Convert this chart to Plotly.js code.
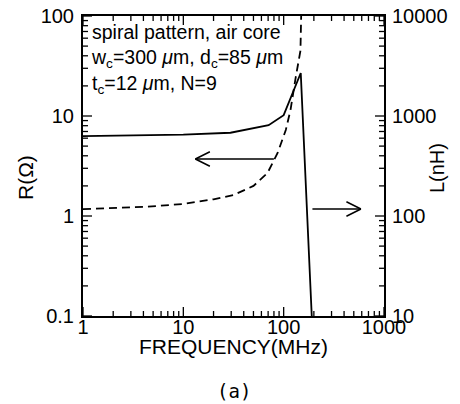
<!DOCTYPE html>
<html><head><meta charset="utf-8">
<script src="https://cdn.plot.ly/plotly-3.0.1.min.js"></script>
<style>html,body{margin:0;padding:0;background:#fff}#plot{width:460px;height:404px}</style>
</head><body><div id="plot"></div>
<script>
// Resistance R (left axis, ohm) vs frequency (MHz)
const freqR = [1, 10, 29.5, 50, 70.8, 100, 148, 191];
const resistR = [6.3, 6.5, 6.8, 7.6, 8.1, 10.2, 26.9, 0.095];
// Inductance L (right axis, nH) vs frequency (MHz)
const freqL = [1, 4.4, 10, 20, 31.6, 50, 69, 87, 105, 117, 132, 147, 150];
const inductL = [117, 124, 132, 147, 162, 200, 269, 427, 724, 1150, 2450, 4500, 12000];
// tick labels (decades)
const xTickVals = [1, 10, 100, 1000];
const xTickText = ['1', '10', '100', '1000'];
const yTickVals = [0.1, 1, 10, 100];
const yTickText = ['0.1', '1', '10', '100'];
const y2TickVals = [10, 100, 1000, 10000];
const y2TickText = ['10', '100', '1000', '10000'];

// all log tick positions 1..9 per decade
function allTicks(decades) {
  const v = [];
  for (let i = 0; i < decades.length; i++) {
    v.push(decades[i]);
    if (i < decades.length - 1) for (let k = 2; k <= 9; k++) v.push(decades[i] * k);
  }
  return v;
}

const F = 'Liberation Sans, Arial, sans-serif';
const xMin = xTickVals[0], xMax = xTickVals[xTickVals.length - 1];
const yMin = yTickVals[0], yMax = yTickVals[yTickVals.length - 1];
const PX_PER_DEC = 100; // plot is ~100 px per decade on every axis
const fac = px => Math.pow(10, px / PX_PER_DEC);
const tickLen = (v, dec) => dec.includes(v) ? 9 : 5;

// inward tick marks as thin line segments through the axes' own scales
const bx = [], by = [], ly = [], lx = [], rx = [], ry = [];
allTicks(xTickVals).forEach(v => {
  const f = fac(tickLen(v, xTickVals));
  bx.push(v, v, null); by.push(yMin, yMin * f, null);
  bx.push(v, v, null); by.push(yMax, yMax / f, null);
});
allTicks(yTickVals).forEach(v => {
  const f = fac(tickLen(v, yTickVals));
  lx.push(xMin, xMin * f, null); ly.push(v, v, null);
});
allTicks(y2TickVals).forEach(v => {
  const f = fac(tickLen(v, y2TickVals));
  rx.push(xMax / f, xMax, null); ry.push(v, v, null);
});
const tickLine = {color: '#000', width: 1.3};
const traces = [
  {x: bx, y: by, mode: 'lines', line: tickLine, yaxis: 'y', hoverinfo: 'skip', showlegend: false, connectgaps: false},
  {x: lx, y: ly, mode: 'lines', line: tickLine, yaxis: 'y', hoverinfo: 'skip', showlegend: false, connectgaps: false},
  {x: rx, y: ry, mode: 'lines', line: tickLine, yaxis: 'y2', hoverinfo: 'skip', showlegend: false, connectgaps: false},
  {x: freqR, y: resistR, mode: 'lines', line: {color: '#000', width: 1.8}, yaxis: 'y', showlegend: false},
  {x: freqL, y: inductL, mode: 'lines', line: {color: '#000', width: 1.8, dash: '8px,5px'}, yaxis: 'y2', showlegend: false}
];

function ax(tv, tt, extra) {
  return Object.assign({type: 'log', showgrid: false, zeroline: false, showline: true, linecolor: '#000', linewidth: 2,
    tickmode: 'array', tickvals: tv, ticktext: tt, ticks: '',
    tickfont: {family: F, size: 20, color: '#000'}}, extra);
}
const layout = {
  width: 460, height: 404, margin: {l: 83, r: 76, t: 16, b: 88},
  paper_bgcolor: '#fff', plot_bgcolor: 'rgba(0,0,0,0)', font: {family: F, color: '#000'},
  xaxis: ax(xTickVals, xTickText, {range: [Math.log10(xMin), Math.log10(xMax)], mirror: true, ticklabelstandoff: -8}),
  yaxis: ax(yTickVals, yTickText, {range: [Math.log10(yMin), Math.log10(yMax)], ticklabelstandoff: 3}),
  yaxis2: ax(y2TickVals, y2TickText, {range: [1, 4], overlaying: 'y', side: 'right', ticklabelstandoff: 2}),
  annotations: [
    {xref: 'paper', yref: 'paper', x: 0.02, y: 0.99, xanchor: 'left', yanchor: 'top', align: 'left', showarrow: false,
     text: 'spiral pattern, air core<br>w<sub>c</sub>=300 <i>μ</i>m, d<sub>c</sub>=85 <i>μ</i>m<br>t<sub>c</sub>=12 <i>μ</i>m, N=9',
     font: {family: F, size: 19.5, color: '#000'}},
    // axis titles
    {xref: 'paper', yref: 'paper', x: 0.5, y: -0.1, xanchor: 'center', yanchor: 'middle', showarrow: false,
     text: 'FREQUENCY(MHz)', font: {family: F, size: 21, color: '#000'}},
    {xref: 'paper', yref: 'paper', x: -0.193, y: 0.463, xanchor: 'center', yanchor: 'middle', showarrow: false, textangle: -90,
     text: 'R(Ω)', font: {family: F, size: 21, color: '#000'}},
    {xref: 'paper', yref: 'paper', x: 1.176, y: 0.493, xanchor: 'center', yanchor: 'middle', showarrow: false, textangle: -90,
     text: 'L(nH)', font: {family: F, size: 20, color: '#000'}},
    // left arrow (points to R curve)
    {xref: 'x', yref: 'y', x: 1.12, y: 0.57, ax: 80, ay: 0, text: '', showarrow: true, arrowhead: 0, arrowwidth: 1.5, arrowcolor: '#000', standoff: 0},
    {xref: 'x', yref: 'y', x: 1.12, y: 0.57, ax: 16, ay: -8, text: '', showarrow: true, arrowhead: 0, arrowwidth: 1.5, arrowcolor: '#000', standoff: 0},
    {xref: 'x', yref: 'y', x: 1.12, y: 0.57, ax: 16, ay: 8, text: '', showarrow: true, arrowhead: 0, arrowwidth: 1.5, arrowcolor: '#000', standoff: 0},
    // right arrow (points to L curve)
    {xref: 'x', yref: 'y', x: 2.77, y: 0.07, ax: -50, ay: 0, text: '', showarrow: true, arrowhead: 0, arrowwidth: 1.5, arrowcolor: '#000', standoff: 0},
    {xref: 'x', yref: 'y', x: 2.77, y: 0.07, ax: -16, ay: -8, text: '', showarrow: true, arrowhead: 0, arrowwidth: 1.5, arrowcolor: '#000', standoff: 0},
    {xref: 'x', yref: 'y', x: 2.77, y: 0.07, ax: -16, ay: 8, text: '', showarrow: true, arrowhead: 0, arrowwidth: 1.5, arrowcolor: '#000', standoff: 0},
    {xref: 'paper', yref: 'paper', x: 0.5, y: -0.25, xanchor: 'center', yanchor: 'middle', showarrow: false,
     text: '(a)', font: {family: 'DejaVu Sans Mono, monospace', size: 19, color: '#000'}}
  ]
};
Plotly.newPlot('plot', traces, layout, {staticPlot: true, displayModeBar: false});
</script></body></html>
